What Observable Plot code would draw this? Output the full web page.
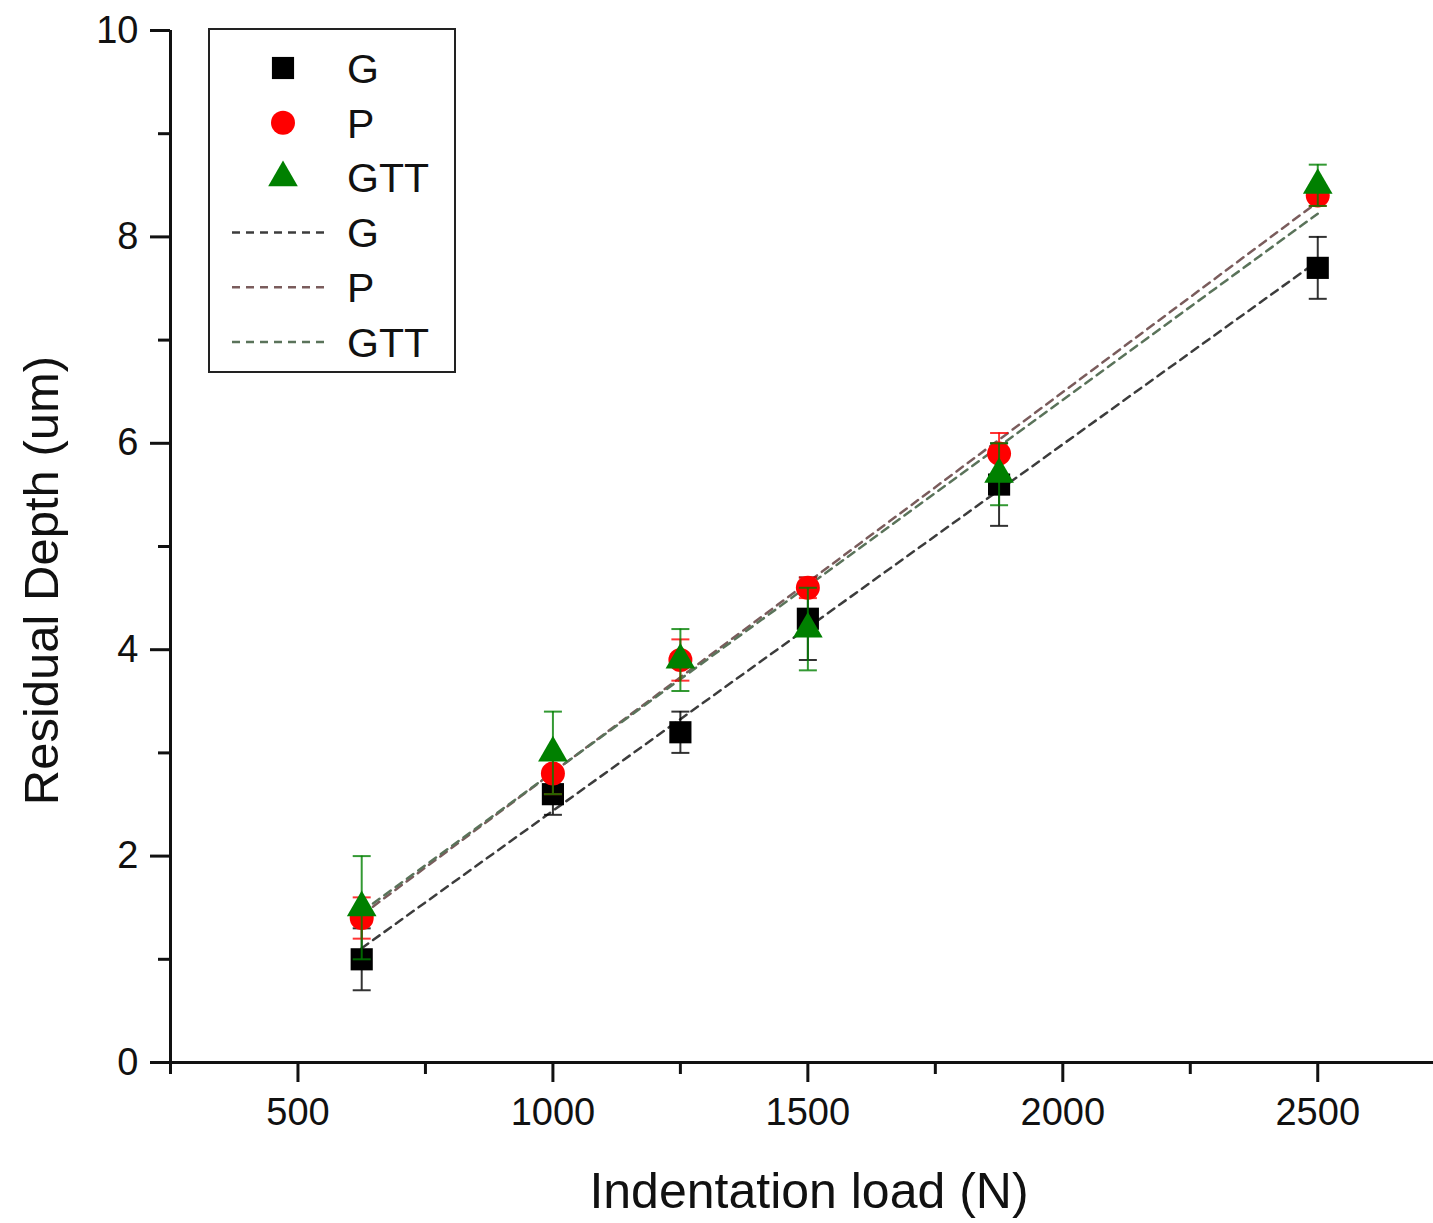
<!DOCTYPE html>
<html>
<head>
<meta charset="utf-8">
<script src="https://cdn.jsdelivr.net/npm/d3@7"></script>
<script src="https://cdn.jsdelivr.net/npm/@observablehq/plot@0.6"></script>
<style>
  html, body { margin: 0; padding: 0; background: #fff; }
  #chart svg { display: block; font-family: "Liberation Sans", Arial, sans-serif; }
</style>
</head>
<body>
<div id="chart"></div>
<script>
// ---- data ----
const loads      = [625, 1000, 1250, 1500, 1875, 2500];
const gDepth     = [1.0, 2.6, 3.2, 4.3, 5.6, 7.7];
const gErr       = [0.3, 0.2, 0.2, 0.4, 0.4, 0.3];
const pDepth     = [1.4, 2.8, 3.9, 4.6, 5.9, 8.4];
const pErr       = [0.2, 0.2, 0.2, 0.1, 0.2, 0.1];
const gttDepth   = [1.5, 3.0, 3.9, 4.2, 5.7, 8.5];
const gttErr     = [0.5, 0.4, 0.3, 0.4, 0.3, 0.2];
const seriesNames = ["G", "P", "GTT"];
const xMajorTicks = [500, 1000, 1500, 2000, 2500];
const xMinorTicks = [250, 750, 1250, 1750, 2250];
const yMajorTicks = [0, 2, 4, 6, 8, 10];
const yMinorTicks = [1, 3, 5, 7, 9];
const xTitle = "Indentation load (N)";
const yTitle = "Residual Depth (um)";

// ---- styles ----
const styles = {
  G:   {color: "#000000", symbol: "square",   r: 12.5, fit: "#3c3c3c"},
  P:   {color: "#ff0000", symbol: "circle",   r: 12,   fit: "#7a5c5c"},
  GTT: {color: "#008000", symbol: "triangle", r: 11,   fit: "#5a735a"}
};
const depthBy = {G: gDepth, P: pDepth, GTT: gttDepth};
const errBy = {G: gErr, P: pErr, GTT: gttErr};

const series = seriesNames.map(name => loads.map((x, i) => ({
  name, x, y: depthBy[name][i], lo: depthBy[name][i] - errBy[name][i], hi: depthBy[name][i] + errBy[name][i]
})));

// horizontal cap symbol for error bars
const capSymbol = {draw(ctx) { ctx.moveTo(-9, 0); ctx.lineTo(9, 0); }};

const font = "'Liberation Sans', Arial, sans-serif";
const marks = [
  // axis lines
  Plot.ruleY([0], {stroke: "#111", strokeWidth: 3}),
  Plot.ruleX([250], {stroke: "#111", strokeWidth: 3}),
  // axes
  Plot.axisX({ticks: xMajorTicks, tickSize: 20, tickPadding: 16, tickFormat: d3.format("d"), fontSize: 38, strokeWidth: 3, stroke: "#111", fill: "#111", label: null}),
  Plot.axisX({ticks: xMinorTicks, tickSize: 12, tickFormat: () => "", strokeWidth: 3, stroke: "#111", label: null}),
  Plot.axisY({ticks: yMajorTicks, tickSize: 20, tickPadding: 12, fontSize: 38, strokeWidth: 3, stroke: "#111", fill: "#111", label: null}),
  Plot.axisY({ticks: yMinorTicks, tickSize: 12, tickFormat: () => "", strokeWidth: 3, stroke: "#111", label: null}),
  // axis titles
  Plot.text([yTitle], {frameAnchor: "left", textAnchor: "middle", rotate: -90, dx: -128, dy: 34, fontSize: 49, fill: "#111"}),
  Plot.text([xTitle], {frameAnchor: "bottom", dx: 7, dy: 145, fontSize: 50, fill: "#111"})
];

// fit lines
seriesNames.forEach((name, k) => {
  marks.push(Plot.linearRegressionY(series[k], {x: "x", y: "y", ci: 0, stroke: styles[name].fit, strokeWidth: 2.5, strokeDasharray: "8,6"}));
});
// error bars and points, series by series
seriesNames.forEach((name, k) => {
  const s = styles[name];
  marks.push(Plot.ruleX(series[k], {x: "x", y1: "lo", y2: "hi", stroke: s.color, strokeWidth: 2, strokeOpacity: 0.8}));
  marks.push(Plot.dot(series[k], {x: "x", y: "lo", symbol: capSymbol, stroke: s.color, strokeWidth: 2, strokeOpacity: 0.8}));
  marks.push(Plot.dot(series[k], {x: "x", y: "hi", symbol: capSymbol, stroke: s.color, strokeWidth: 2, strokeOpacity: 0.8}));
  marks.push(Plot.dot(series[k], {x: "x", y: "y", symbol: s.symbol, r: s.r, fill: s.color, stroke: "none"}));
});

const chart = Plot.plot({
  width: 1433,
  height: 1223,
  marginLeft: 170,
  marginRight: 0,
  marginTop: 30,
  marginBottom: 161,
  style: {fontFamily: font, background: "#fff", overflow: "visible"},
  x: {domain: [250, 2727], axis: null},
  y: {domain: [0, 10], axis: null},
  marks
});
document.getElementById("chart").appendChild(chart);

// ---- legend (inside the plot area, top-left) ----
const svg = d3.select(chart);
const lg = svg.append("g").attr("font-family", font).attr("text-anchor", "start");
lg.append("rect").attr("x", 209).attr("y", 29).attr("width", 246).attr("height", 343)
  .attr("fill", "#fff").attr("stroke", "#222").attr("stroke-width", 2);
const symMap = {square: d3.symbolSquare, circle: d3.symbolCircle, triangle: d3.symbolTriangle};
const rowGap = 54.8;
const entries = [
  ...seriesNames.map(n => ({n, kind: "sym"})),
  ...seriesNames.map(n => ({n, kind: "line"}))
];
entries.forEach((e, i) => {
  const cy = 68 + i * rowGap;
  const s = styles[e.n];
  if (e.kind === "sym") {
    lg.append("path")
      .attr("d", d3.symbol(symMap[s.symbol], Math.PI * s.r * s.r)())
      .attr("transform", `translate(283,${cy})`)
      .attr("fill", s.color);
  } else {
    lg.append("line").attr("x1", 232).attr("x2", 326).attr("y1", cy).attr("y2", cy)
      .attr("stroke", s.fit).attr("stroke-width", 2.5).attr("stroke-dasharray", "8,6");
  }
  lg.append("text").attr("x", 347).attr("y", cy).attr("dy", "0.36em")
    .attr("text-anchor", "start")
    .attr("font-size", 41).attr("fill", "#111").text(e.n);
});
</script>
</body>
</html>
